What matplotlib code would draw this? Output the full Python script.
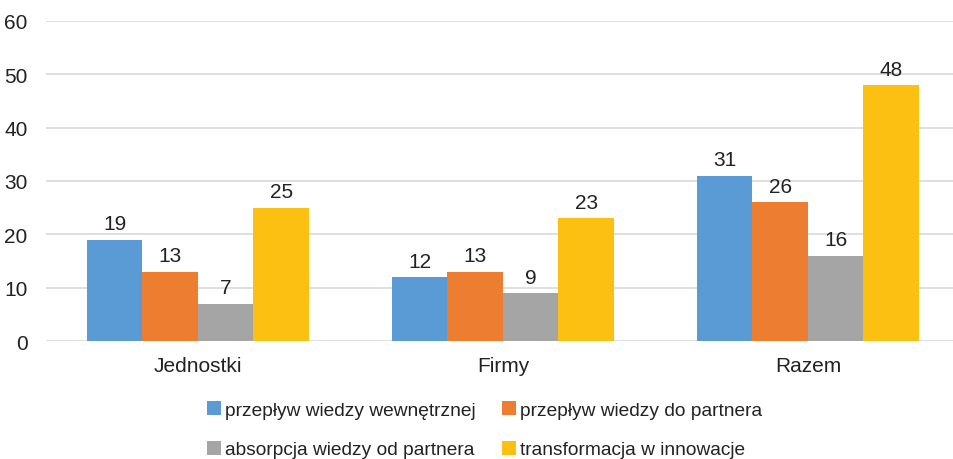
import matplotlib.pyplot as plt
import numpy as np
from matplotlib.patches import Patch

plt.rcParams["font.family"] = ["Liberation Sans", "DejaVu Sans"]

categories = ["Jednostki", "Firmy", "Razem"]
series_names = [
    "przepływ wiedzy wewnętrznej",
    "przepływ wiedzy do partnera",
    "absorpcja wiedzy od partnera",
    "transformacja w innowacje",
]
wewnetrzny = [19, 12, 31]
do_partnera = [13, 13, 26]
absorpcja = [7, 9, 16]
transformacja = [25, 23, 48]
y_ticks = [0, 10, 20, 30, 40, 50, 60]

colors = ["#5B9BD5", "#ED7D31", "#A5A5A5", "#FBC012"]

fig = plt.figure(figsize=(9.54, 4.60), dpi=100)
ax = fig.add_axes([0.0477, 0.2565, 0.951, 0.6957])

x = np.arange(len(categories))
width = 0.182
all_series = [wewnetrzny, do_partnera, absorpcja, transformacja]
for i, (vals, col) in enumerate(zip(all_series, colors)):
    pos = x + (i - 1.5) * width
    bars = ax.bar(pos, vals, width, color=col, zorder=3)
    for b, v in zip(bars, vals):
        ax.text(b.get_x() + b.get_width() / 2, v + 1.2, str(v),
                ha="center", va="bottom", fontsize=15, color="#222222")

ax.set_xlim(-0.5, 2.475)
ax.set_ylim(0, 60)
ax.set_yticks(y_ticks)
ax.set_xticks(x)
ax.set_xticklabels(categories, fontsize=15, color="#222222")
ax.tick_params(axis="y", labelsize=15, labelcolor="#222222", length=0, pad=13)
ax.tick_params(axis="x", length=0, pad=11)
ax.grid(axis="y", color="#dcdcdc", linewidth=1.3, zorder=0)
for s in ax.spines.values():
    s.set_visible(False)

# legend fills column-major, so reorder to get row-major layout
order = [0, 2, 1, 3]
handles = [Patch(facecolor=colors[k]) for k in order]
labels = [series_names[k] for k in order]
fig.legend(handles, labels, loc="upper center", bbox_to_anchor=(0.508, 0.163),
           ncol=2, frameon=False, fontsize=13.8, handlelength=0.72, handleheight=0.72,
           handletextpad=0.2, columnspacing=1.4, labelspacing=1.15,
           labelcolor="#222222")

plt.savefig("out.png", dpi=100)
plt.close()
